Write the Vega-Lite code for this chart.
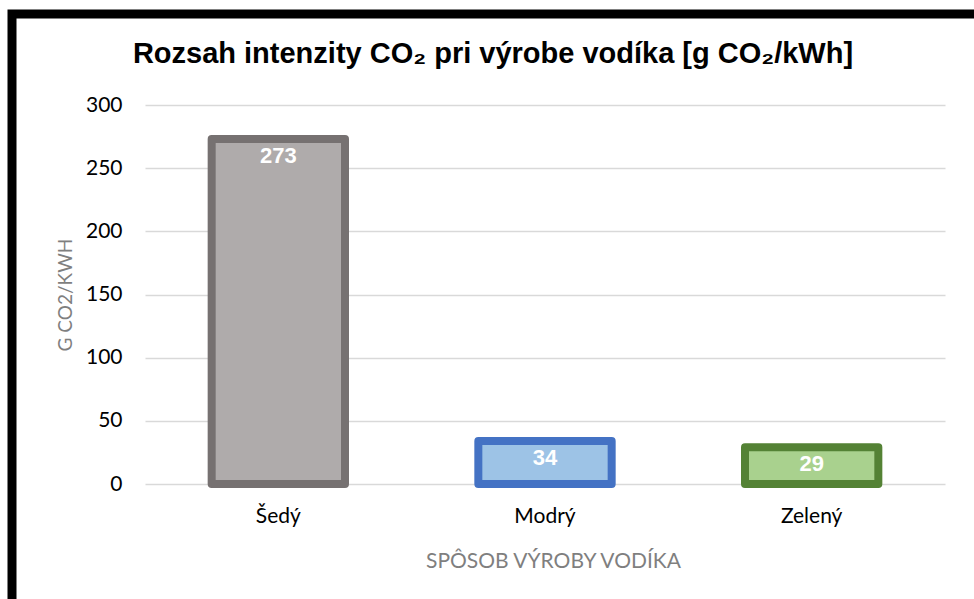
{
  "$schema": "https://vega.github.io/schema/vega-lite/v6.json",
  "autosize": {"type": "none"},
  "padding": {"left": 12, "top": 14, "right": 0, "bottom": 0},
  "width": 962,
  "height": 585,
  "background": "white",
  "config": {
    "view": {"stroke": "black", "strokeWidth": 9, "strokeDash": [962, 1547, 585, 10], "strokeCap": "square", "fill": "white"}
  },
  "title": {
    "text": "Rozsah intenzity CO₂ pri výrobe vodíka [g CO₂/kWh]",
    "font": "Liberation Sans",
    "fontSize": 29,
    "fontWeight": "bold",
    "color": "black",
    "anchor": "middle",
    "frame": "group",
    "offset": -78,
    "baseline": "alphabetic"
  },
  "data": {
    "values": [
      {"sposob": "Šedý", "hodnota": 273},
      {"sposob": "Modrý", "hodnota": 34},
      {"sposob": "Zelený", "hodnota": 29}
    ]
  },
  "encoding": {
    "x": {
      "field": "sposob",
      "type": "nominal",
      "sort": null,
      "scale": {"range": [133, 933], "paddingInner": 0.5, "paddingOuter": 0.25},
      "axis": {
        "title": "SPÔSOB VÝROBY VODÍKA",
        "orient": "bottom",
        "offset": -115,
        "domain": false,
        "ticks": false,
        "tickSize": 0,
        "labelAngle": 0,
        "labelFont": "Lato",
        "labelFontSize": 21,
        "labelColor": "black",
        "labelBaseline": "alphabetic",
        "labelPadding": 38,
        "titleFont": "Lato",
        "titleFontSize": 21,
        "titleFontWeight": "normal",
        "titleColor": "#7f7f7f",
        "titleX": 541,
        "titleY": 83,
        "titleAlign": "center",
        "titleBaseline": "alphabetic"
      }
    },
    "y": {
      "field": "hodnota",
      "type": "quantitative",
      "scale": {"domain": [0, 300], "range": [470, 91], "nice": false},
      "axis": {
        "title": "G CO2/KWH",
        "orient": "left",
        "offset": -112,
        "values": [0, 50, 100, 150, 200, 250, 300],
        "domain": false,
        "ticks": false,
        "tickSize": 0,
        "grid": true,
        "gridColor": "#d9d9d9",
        "gridWidth": 1.5,
        "labelFont": "Lato",
        "labelFontSize": 21,
        "labelColor": "black",
        "labelPadding": 2,
        "labelBaseline": "middle",
        "titleFont": "Lato",
        "titleFontSize": 19,
        "titleFontWeight": "normal",
        "titleColor": "#7f7f7f",
        "titleX": -59,
        "titleBaseline": "middle",
        "titleAngle": 270
      }
    }
  },
  "layer": [
    {
      "mark": {"type": "bar", "strokeWidth": 8, "strokeJoin": "round"},
      "encoding": {
        "fill": {
          "field": "sposob",
          "type": "nominal",
          "scale": {"domain": ["Šedý", "Modrý", "Zelený"], "range": ["#afabab", "#9dc3e6", "#a9d18e"]},
          "legend": null
        },
        "stroke": {
          "field": "sposob",
          "type": "nominal",
          "scale": {"domain": ["Šedý", "Modrý", "Zelený"], "range": ["#767171", "#4472c4", "#548235"]},
          "legend": null
        }
      }
    },
    {
      "mark": {"type": "text", "baseline": "top", "dy": 7, "color": "white", "font": "Liberation Sans", "fontSize": 22, "fontWeight": "bold"},
      "encoding": {
        "text": {"field": "hodnota", "type": "quantitative"}
      }
    }
  ]
}
